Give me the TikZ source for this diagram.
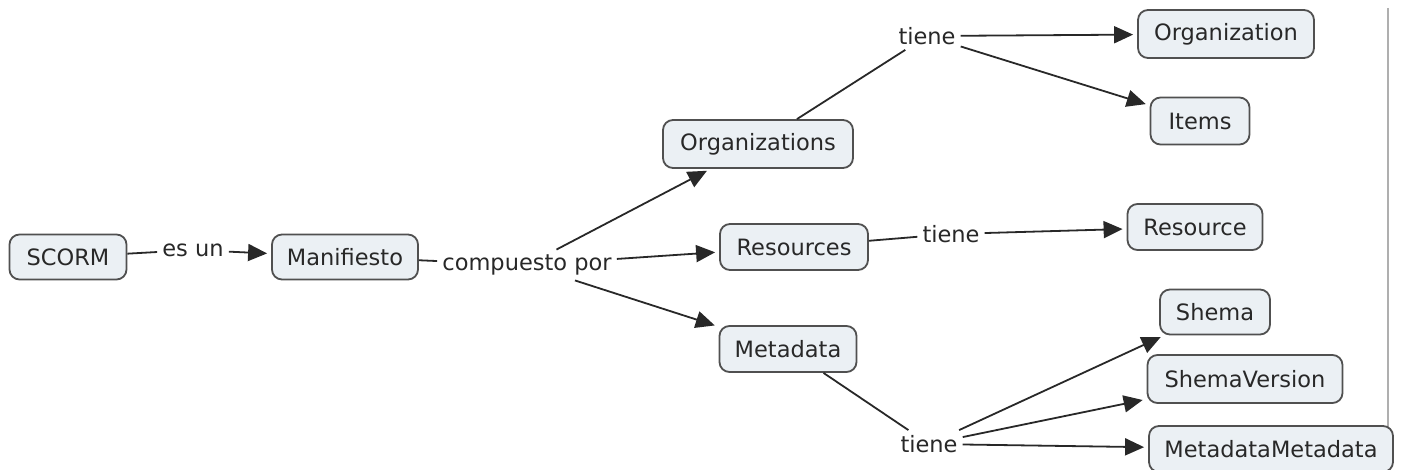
\documentclass[tikz,border=0pt]{standalone}
\usepackage{fontspec}
\setmainfont{DejaVu Sans}
\usetikzlibrary{arrows.meta}
\definecolor{boxfill}{RGB}{235,240,244}
\definecolor{boxline}{RGB}{80,80,80}
\definecolor{inkc}{RGB}{40,40,40}
\definecolor{rulec}{RGB}{175,175,175}
\tikzset{
  concept/.style={draw=boxline, line width=1.8pt, fill=boxfill, rounded corners=10pt,
    text=inkc, font=\fontsize{22.5}{26}\selectfont, inner sep=0pt, anchor=center},
  phrase/.style={text=inkc, font=\fontsize{22.5}{26}\selectfont, inner sep=5pt},
  link/.style={draw=inkc, line width=1.8pt},
  arr/.style={link, -{Triangle[length=19pt,width=17pt]}, shorten >=4pt},
}
\begin{document}
\begin{tikzpicture}[x=1pt,y=-1pt]
\useasboundingbox (0,0) rectangle (1402,470);
% right-hand page rule
\draw[rulec, line width=1.5pt] (1388,8) -- (1388,470);

% concepts
\node[concept, minimum width=117pt, minimum height=45pt] (scorm) at (68,257) {SCORM};
\node[concept, minimum width=146pt, minimum height=45pt] (manif) at (345,257) {Manifiesto};
\node[concept, minimum width=190pt, minimum height=48pt] (orgs) at (758,144) {Organizations};
\node[concept, minimum width=148pt, minimum height=46pt] (res) at (794,247) {Resources};
\node[concept, minimum width=137pt, minimum height=46pt] (meta) at (788,349) {Metadata};
\node[concept, minimum width=176pt, minimum height=48pt] (org) at (1226,34) {Organization};
\node[concept, minimum width=99pt, minimum height=47pt] (items) at (1200,121) {Items};
\node[concept, minimum width=135pt, minimum height=46pt] (resource) at (1195,227) {Resource};
\node[concept, minimum width=110pt, minimum height=45pt] (shema) at (1215,312) {Shema};
\node[concept, minimum width=195pt, minimum height=48pt] (shemav) at (1245,379) {ShemaVersion};
\node[concept, minimum width=244pt, minimum height=46pt] (mm) at (1271,449) {MetadataMetadata};

% linking phrases
\node[phrase] (esun) at (193,250) {es un};
\node[phrase] (comp) at (527,265) {compuesto por};
\node[phrase] (t1) at (927,36) {tiene};
\node[phrase] (t2) at (951,234) {tiene};
\node[phrase] (t3) at (929,444) {tiene};

% connectors
\draw[link] (scorm) -- (esun);
\draw[arr] (esun) -- (manif);
\draw[link] (manif) -- (comp);
\draw[arr] (comp) -- (orgs);
\draw[arr] (comp) -- (res);
\draw[arr] (comp) -- (meta);
\draw[link] (orgs) -- (t1);
\draw[arr] (t1) -- (org);
\draw[arr] (t1) -- (items);
\draw[link] (res) -- (t2);
\draw[arr] (t2) -- (resource);
\draw[link] (meta) -- (t3);
\draw[arr] (t3) -- (shema);
\draw[arr] (t3) -- (shemav);
\draw[arr] (t3) -- (mm);
\end{tikzpicture}
\end{document}
